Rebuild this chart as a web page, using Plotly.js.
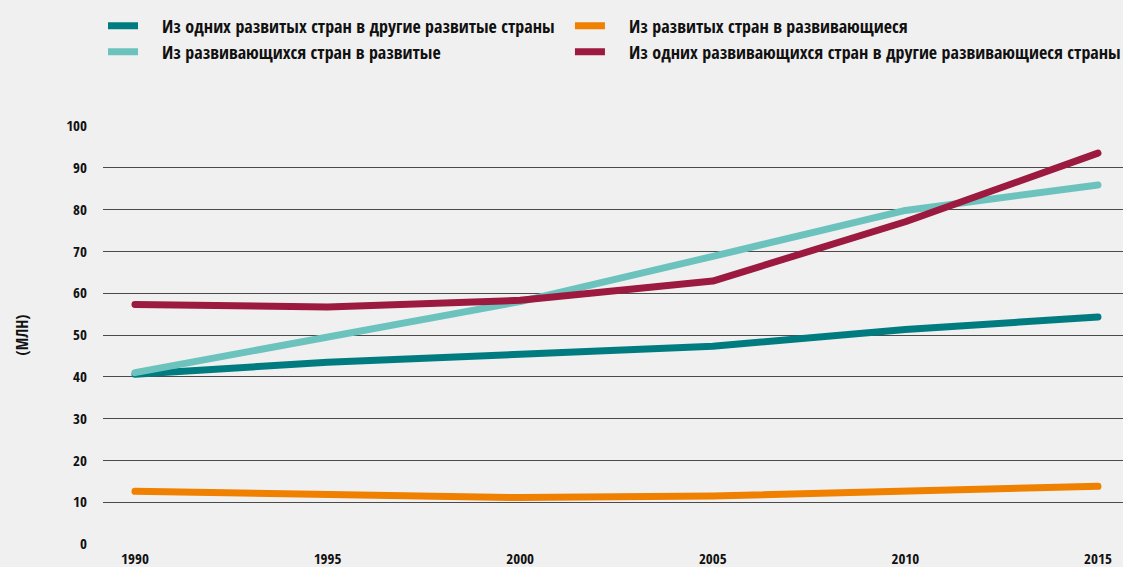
<!DOCTYPE html>
<html>
<head>
<meta charset="utf-8">
<script src="https://cdn.plot.ly/plotly-3.0.1.min.js"></script>
<style>
  html, body { margin: 0; padding: 0; background: #f0f0f0; }
  #chart { width: 1123px; height: 567px; }
  #chart .scatterlayer path.js-line { stroke-linecap: round; stroke-linejoin: round; }
  #chart g.legendpoints path.js-line { d: path("M5,0h40"); stroke-linecap: round; }
</style>
</head>
<body>
<div id="chart"></div>
<script>
const years = [1990, 1995, 2000, 2005, 2010, 2015];
const devToDev = [40.6, 43.5, 45.4, 47.3, 51.3, 54.3];
const devToDeveloping = [12.6, 11.8, 11.1, 11.5, 12.5, 13.8];
const developingToDev = [41.0, 49.3, 58.0, 68.8, 79.8, 85.9];
const developingToDeveloping = [57.3, 56.7, 58.3, 62.9, 77.1, 93.5];

const names = [
  'Из одних развитых стран в другие развитые страны',
  'Из развитых стран в развивающиеся',
  'Из развивающихся стран в развитые',
  'Из одних развивающихся стран в другие развивающиеся страны'
];
const series = [devToDev, devToDeveloping, developingToDev, developingToDeveloping];
const colors = ['#007c80', '#f08000', '#6cc3be', '#9c1a3f'];
const legendIds = ['legend', 'legend2', 'legend3', 'legend4'];

const FONT = '"Open Sans Condensed", "Roboto Condensed", "DejaVu Sans Condensed", sans-serif';

const traces = series.map((s, i) => ({
  x: years,
  y: s,
  name: names[i],
  type: 'scatter',
  mode: 'lines',
  line: { color: colors[i], width: 7 },
  legend: legendIds[i],
  hoverinfo: 'x+y'
}));

// draw order: orange, dark teal, light teal, crimson on top
const order = [1, 0, 2, 3];
const data = order.map(i => traces[i]);

const legendFont = { family: FONT, size: 18, color: '#111', weight: 'bold' };
const tickFont = { family: FONT, size: 15, color: '#111', weight: 'bold' };

function makeLegend(x, y, ew) {
  return {
    orientation: 'h',
    x: x, xanchor: 'left',
    y: y, yanchor: 'middle',
    entrywidth: ew,
    font: legendFont,
    bgcolor: 'rgba(0,0,0,0)',
    itemclick: false,
    itemdoubleclick: false
  };
}

const layout = {
  width: 1123,
  height: 567,
  paper_bgcolor: '#f0f0f0',
  plot_bgcolor: '#f0f0f0',
  margin: { l: 103, r: 0, t: 126, b: 23 },
  font: { family: FONT, size: 15, color: '#111' },
  showlegend: true,
  legend: makeLegend(0, 1.239, 420),
  legend2: makeLegend(0.4578, 1.239, 320),
  legend3: makeLegend(0, 1.177, 420),
  legend4: makeLegend(0.4578, 1.177, 506),
  xaxis: {
    range: [1989.17, 2015.65],
    tickmode: 'array',
    tickvals: years,
    ticktext: years.map(String),
    showgrid: false,
    zeroline: false,
    showline: false,
    ticks: '',
    ticklabelstandoff: 4,
    tickfont: tickFont,
    fixedrange: true
  },
  yaxis: {
    range: [0, 100],
    dtick: 10,
    tick0: 0,
    showgrid: true,
    gridcolor: '#4a4a4a',
    gridwidth: 1.3,
    zeroline: false,
    showline: false,
    ticks: '',
    ticklabelstandoff: 15,
    tickfont: tickFont,
    title: { text: '(МЛН)', font: { family: FONT, size: 16, color: '#111', weight: 'bold' }, standoff: 33 },
    fixedrange: true
  }
};

const gdEl = document.getElementById('chart');

function fixLegend() {
  gdEl.querySelectorAll('text').forEach(t => {
    if (names.includes(t.textContent.trim())) {
      if (t.getAttribute('x') !== '59') t.setAttribute('x', '59');
      t.querySelectorAll('tspan[x]').forEach(ts => {
        if (ts.getAttribute('x') !== '59') ts.setAttribute('x', '59');
      });
    }
  });
  gdEl.querySelectorAll('g.legendpoints path.js-line').forEach(p => {
    if (p.getAttribute('d') !== 'M5,0h40') p.setAttribute('d', 'M5,0h40');
  });
}

const obs = new MutationObserver(fixLegend);
obs.observe(gdEl, { childList: true, subtree: true, attributes: true, attributeFilter: ['x', 'd', 'transform'] });

Plotly.newPlot(gdEl, data, layout, { displayModeBar: false }).then(fixLegend);
</script>
</body>
</html>
